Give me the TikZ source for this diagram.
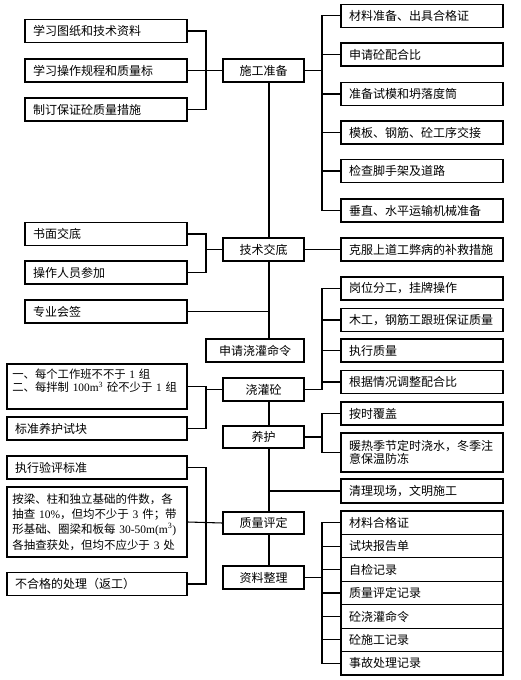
\documentclass[tikz,border=0pt]{standalone}
\usepackage{fontspec}
\setmainfont{Noto Sans CJK SC}
\newfontfamily\lat{Liberation Serif}
\usetikzlibrary{positioning}

\begin{document}
\begin{tikzpicture}[x=0.75pt, y=-0.75pt, line width=0.8pt,
    box/.style={draw, inner xsep=6pt, inner ysep=0pt, minimum height=17.25pt,
      font=\fontsize{9}{10}\selectfont},
    lbox/.style={box, text width=109.5pt, align=left},
    wbox/.style={box, text width=123pt, align=left},
    rbox/.style={box, text width=109.5pt, align=left},
    mbox/.style={box, minimum width=60.75pt, align=center}]
    \useasboundingbox (0,0) rectangle (520,680);
    \coordinate (lb) at (206,0);
    \coordinate (rb) at (322,0);
    \coordinate (sp) at (269,0);

    % main column
    \node (sgzb) [mbox] at (263.5,70.5) {施工准备};
    \node (jsjd) [mbox] at (263.5,249.5) {技术交底};
    \node (sqjg) [mbox, minimum width=73.5pt] at (255,350.5) {申请浇灌命令};
    \node (jgt) [mbox] at (263.5,389.5) {浇灌砼};
    \node (yh) [mbox, minimum height=16.5pt] at (263.5,437) {养护};
    \node (zlpd) [mbox, minimum height=16.5pt] at (263.5,523) {质量评定};
    \node (zlzl) [mbox] at (263.5,577.5) {资料整理};
    \draw (sp |- sgzb.south) -- (sp |- jsjd.north);
    \draw (sp |- jsjd.south) -- (sp |- sqjg.north);
    \draw (sp |- jgt.south) -- (sp |- yh.north);
    \draw (sp |- yh.south) -- (sp |- zlpd.north);
    \draw (sp |- zlpd.south) -- (sp |- zlzl.north);

    % 施工准备
    \node (xxtz) [lbox] at (106,31) {学习图纸和技术资料};
    \node (xxcz) [lbox] at (106,70.5) {学习操作规程和质量标};
    \node (zdbz) [lbox] at (106,109.5) {制订保证砼质量措施};
    \draw (xxtz.east) -| (lb |- zdbz.east) -- (zdbz.east);
    \draw (xxcz.east) -- (sgzb.west);
    \node (clzb) [rbox] at (422,15.7) {材料准备、出具合格证};
    \node (sqph) [rbox] at (422,54.5) {申请砼配合比};
    \node (zbsm) [rbox] at (422,94) {准备试模和坍落度筒};
    \node (mbgj) [rbox] at (422,132.5) {模板、钢筋、砼工序交接};
    \node (jcjs) [rbox] at (422,171) {检查脚手架及道路};
    \node (czsp) [rbox] at (422,210.5) {垂直、水平运输机械准备};
    \draw (sgzb.east) -- (sgzb.east -| rb);
    \draw (clzb.west) -| (rb |- czsp.west) -- (czsp.west);
    \foreach \n in {sqph,zbsm,mbgj,jcjs}
        \draw (\n.west) -- (\n.west -| rb);

    % 技术交底
    \node (smjd) [lbox] at (106,234) {书面交底};
    \node (czry) [lbox] at (106,272.5) {操作人员参加};
    \node (zyhq) [lbox] at (106,311.5) {专业会签};
    \draw (smjd.east) -| (lb |- czry.east) -- (czry.east);
    \draw (lb |- jsjd.west) -- (jsjd.west);
    \draw (zyhq.east) -- (zyhq.east -| sp);
    \node (kfbd) [rbox] at (422,249.5) {克服上道工弊病的补救措施};
    \draw (jsjd.east) -- (kfbd.west);

    % 浇灌砼
    \node (zzsy) [wbox, inner xsep=4pt, text width=127pt, minimum height=33.75pt,
        font=\fontsize{8.5}{9.6}\selectfont] at (97,386.5)
        {一、每个工作班不不于 {\lat 1} 组\\二、每拌制 {\lat 100m\textsuperscript{3}} 砼不少于 {\lat 1} 组\\ \mbox{}};
    \node (bzyh) [wbox] at (97,428.5) {标准养护试块};
    \draw (zzsy.east) -| (lb |- bzyh.east) -- (bzyh.east);
    \draw (lb |- jgt.west) -- (jgt.west);
    \node (gwfg) [rbox] at (422,288.5) {岗位分工，挂牌操作};
    \node (mgbz) [rbox] at (422,320) {木工，钢筋工跟班保证质量};
    \node (zxzl) [rbox] at (422,350.5) {执行质量};
    \node (gjtz) [rbox] at (422,382) {根据情况调整配合比};
    \draw (jgt.east) -- (jgt.east -| rb);
    \draw (gwfg.west) -| (rb |- jgt.east);
    \foreach \n in {mgbz,zxzl,gjtz}
        \draw (\n.west) -- (\n.west -| rb);

    % 养护
    \node (asfg) [rbox] at (422,413.5) {按时覆盖};
    \node (nrjj) [rbox, minimum height=29.25pt, font=\fontsize{9}{9.5}\selectfont] at (422,452.5)
        {暖热季节定时浇水，冬季注\\意保温防冻};
    \draw (yh.east) -- (yh.east -| rb);
    \draw (asfg.west) -| (rb |- nrjj.west) -- (nrjj.west);
    \node (qlxc) [rbox, minimum height=18pt] at (422,491) {清理现场，文明施工};
    \draw (sp |- qlxc.west) -- (qlxc.west);

    % 质量评定
    \node (zxyp) [wbox] at (97,467.5) {执行验评标准};
    \node (ajzh) [wbox, inner xsep=4pt, text width=127pt, minimum height=52.5pt,
        font=\fontsize{8.6}{11.4}\selectfont] at (97,522)
        {按梁、柱和独立基础的件数，各\\
         抽查 {\lat 10\%}，但均不少于 {\lat 3} 件；带\\
         形基础、圈梁和板每 {\lat 30-50m(m\textsuperscript{3})}\\
         各抽查获处，但均不应少于 {\lat 3} 处};
    \node (bhg) [wbox] at (97,584) {不合格的处理（返工）};
    \draw (zxyp.east) -| (lb |- bhg.east) -- (bhg.east);
    \draw (ajzh.east) -- (zlpd.west);

    % 资料整理
    \node (zl1) [rbox, minimum height=17.57pt] at (422,522.7) {材料合格证};
    \foreach \t [count=\i from 2, evaluate=\i as \j using int(\i-1)] in
        {试块报告单, 自检记录, 质量评定记录, 砼浇灌命令, 砼施工记录, 事故处理记录}
        \node (zl\i) [rbox, minimum height=17.57pt, below=-0.8pt of zl\j] {\t};
    \draw (zlzl.east) -- (zlzl.east -| rb);
    \draw (zl1.west) -| (rb |- zl7.west) -- (zl7.west);
    \foreach \i in {2,...,6}
        \draw (zl\i.west) -- (zl\i.west -| rb);
\end{tikzpicture}
\end{document}
